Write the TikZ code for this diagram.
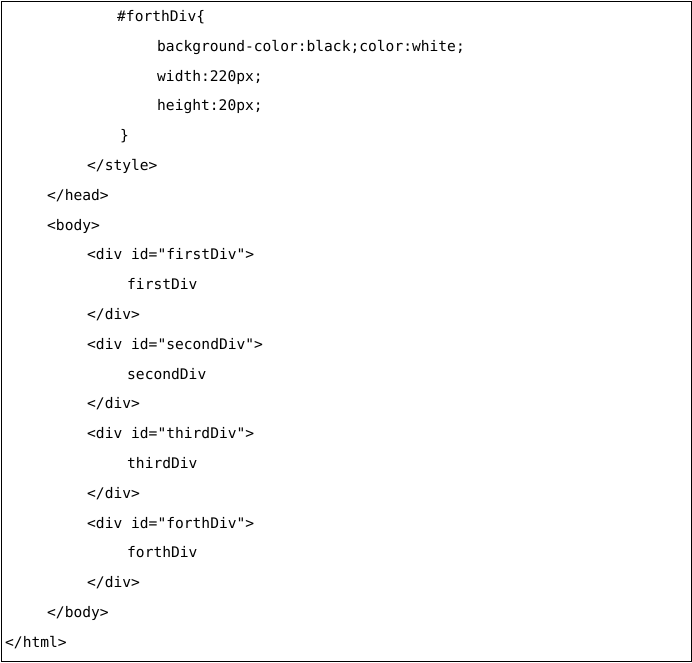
\documentclass[tikz,border=0pt]{standalone}
\usepackage{fontspec}
\setmonofont{DejaVu Sans Mono}
\begin{document}
\begin{tikzpicture}[x=1pt,y=-1pt,code/.style={anchor=base west,inner sep=0pt,font=\ttfamily\fontsize{14.6}{18}\selectfont}]
\useasboundingbox (0,0) rectangle (692,662);
\draw[line width=1pt] (1,1) rectangle (691,661);
\def\L#1#2#3{\node[code] (l#1) at (#2,{16+(#1)*29.8+5.5}) {#3};}
\L{0}{117}{\#forthDiv\{}
\L{1}{157}{background-color:black;color:white;}
\L{2}{157}{width:220px;}
\L{3}{157}{height:20px;}
\L{4}{120}{\}}
\L{5}{87}{</style>}
\L{6}{47}{</head>}
\L{7}{47}{<body>}
\L{8}{87}{<div id="firstDiv">}
\L{9}{127}{firstDiv}
\L{10}{87}{</div>}
\L{11}{87}{<div id="secondDiv">}
\L{12}{127}{secondDiv}
\L{13}{87}{</div>}
\L{14}{87}{<div id="thirdDiv">}
\L{15}{127}{thirdDiv}
\L{16}{87}{</div>}
\L{17}{87}{<div id="forthDiv">}
\L{18}{127}{forthDiv}
\L{19}{87}{</div>}
\L{20}{47}{</body>}
\L{21}{5}{</html>}
\end{tikzpicture}
\end{document}
